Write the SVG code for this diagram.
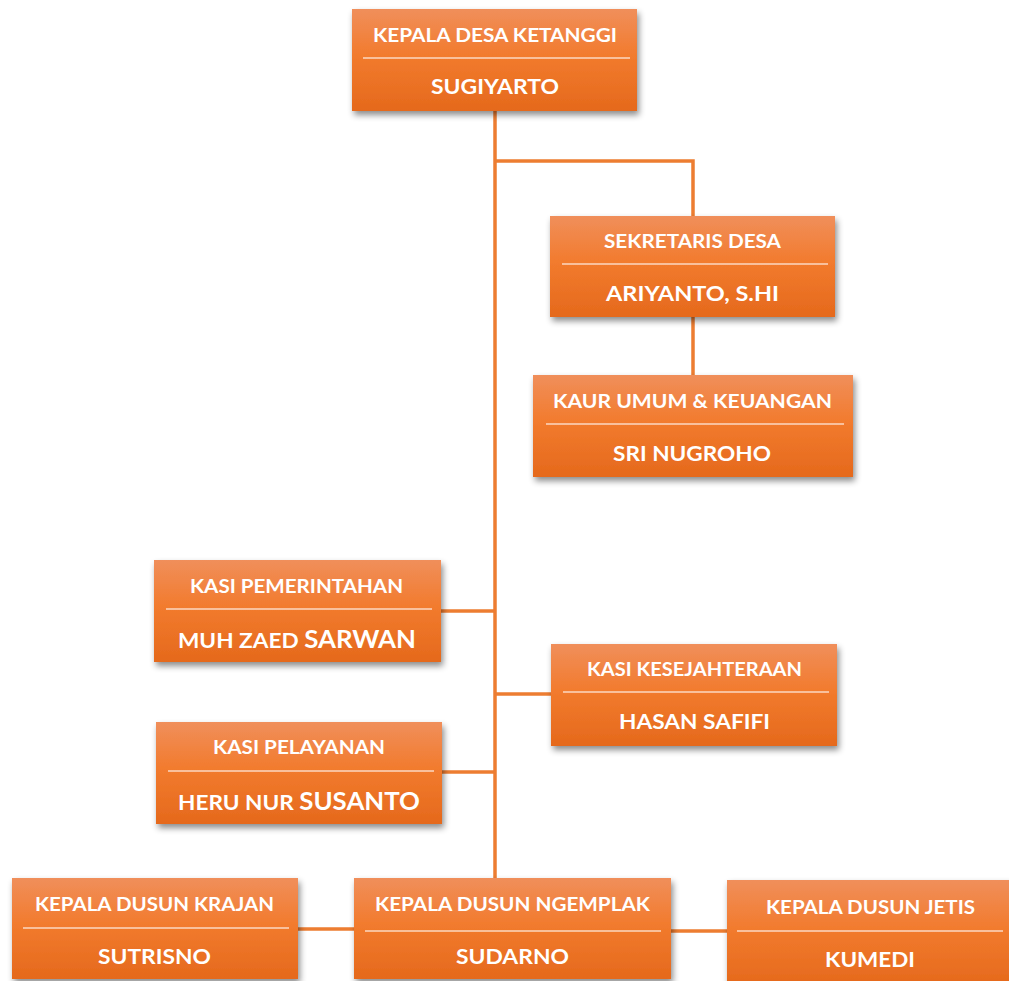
<svg xmlns="http://www.w3.org/2000/svg" width="1009" height="981" viewBox="0 0 1009 981">
<defs>
<linearGradient id="g" x1="0" y1="0" x2="0" y2="1">
<stop offset="0" stop-color="#F08F5B"/>
<stop offset="0.45" stop-color="#F27B2E"/>
<stop offset="1" stop-color="#E5691C"/>
</linearGradient>
<filter id="sh" x="-10%" y="-10%" width="125%" height="135%">
<feDropShadow dx="2" dy="4" stdDeviation="3" flood-color="#000" flood-opacity="0.45"/>
</filter>
</defs>
<style>
.box{fill:url(#g);filter:url(#sh)}
.div{stroke:#FBD9C2;stroke-width:1.5}
.t{font-family:Lato,"Open Sans","Liberation Sans",sans-serif;font-weight:700;fill:#fff;text-anchor:middle}
.ti{font-size:19px}
.nm{font-size:21px}
.big{font-size:24px}
.c{stroke:#ED7D31;stroke-width:3.5;fill:none}
</style>
<rect width="1009" height="981" fill="#fff"/>
<g id="connectors">
<path class="c" d="M495 111 V878"/>
<path class="c" d="M495 161 H693 V216"/>
<path class="c" d="M693 317 V375"/>
<path class="c" d="M441 611 H495"/>
<path class="c" d="M495 694 H551"/>
<path class="c" d="M442 772 H495"/>
<path class="c" d="M298 929 H354"/>
<path class="c" d="M671 931 H727"/>
</g>
<g id="kepala-desa">
<rect class="box" x="352" y="9" width="285" height="102"/>
<line class="div" x1="363" y1="58" x2="630" y2="58"/>
<text class="t ti" x="495" y="42" textLength="244" lengthAdjust="spacingAndGlyphs">KEPALA DESA KETANGGI</text>
<text class="t nm" x="495" y="94" textLength="128" lengthAdjust="spacingAndGlyphs">SUGIYARTO</text>
</g>
<g id="sekretaris-desa">
<rect class="box" x="550" y="216" width="285" height="101"/>
<line class="div" x1="562" y1="264" x2="828" y2="264"/>
<text class="t ti" x="692.5" y="248" textLength="177" lengthAdjust="spacingAndGlyphs">SEKRETARIS DESA</text>
<text class="t nm" x="692.5" y="301" textLength="173" lengthAdjust="spacingAndGlyphs">ARIYANTO, S.HI</text>
</g>
<g id="kaur-umum">
<rect class="box" x="533" y="375" width="320" height="102"/>
<line class="div" x1="546" y1="424" x2="844" y2="424"/>
<text class="t ti" x="692.5" y="408" textLength="279" lengthAdjust="spacingAndGlyphs">KAUR UMUM &amp; KEUANGAN</text>
<text class="t nm" x="692" y="461" textLength="158" lengthAdjust="spacingAndGlyphs">SRI NUGROHO</text>
</g>
<g id="kasi-pemerintahan">
<rect class="box" x="154" y="560" width="287" height="102"/>
<line class="div" x1="166" y1="609" x2="432" y2="609"/>
<text class="t ti" x="296.5" y="593" textLength="213" lengthAdjust="spacingAndGlyphs">KASI PEMERINTAHAN</text>
<text class="t nm" x="297" y="648" textLength="238" lengthAdjust="spacingAndGlyphs">MUH ZAED <tspan class="big">SARWAN</tspan></text>
</g>
<g id="kasi-kesejahteraan">
<rect class="box" x="551" y="644" width="286" height="102"/>
<line class="div" x1="563" y1="692" x2="829" y2="692"/>
<text class="t ti" x="694.5" y="676" textLength="215" lengthAdjust="spacingAndGlyphs">KASI KESEJAHTERAAN</text>
<text class="t nm" x="694.5" y="729" textLength="151" lengthAdjust="spacingAndGlyphs">HASAN SAFIFI</text>
</g>
<g id="kasi-pelayanan">
<rect class="box" x="156" y="722" width="286" height="102"/>
<line class="div" x1="168" y1="771" x2="434" y2="771"/>
<text class="t ti" x="299" y="754" textLength="172" lengthAdjust="spacingAndGlyphs">KASI PELAYANAN</text>
<text class="t nm" x="299" y="810" textLength="242" lengthAdjust="spacingAndGlyphs">HERU NUR <tspan class="big">SUSANTO</tspan></text>
</g>
<g id="dusun-krajan">
<rect class="box" x="12" y="878" width="286" height="101"/>
<line class="div" x1="23" y1="928" x2="289" y2="928"/>
<text class="t ti" x="154.5" y="911" textLength="239" lengthAdjust="spacingAndGlyphs">KEPALA DUSUN KRAJAN</text>
<text class="t nm" x="154.5" y="964" textLength="113" lengthAdjust="spacingAndGlyphs">SUTRISNO</text>
</g>
<g id="dusun-ngemplak">
<rect class="box" x="354" y="878" width="317" height="101"/>
<line class="div" x1="365" y1="931" x2="661" y2="931"/>
<text class="t ti" x="512.5" y="911" textLength="275" lengthAdjust="spacingAndGlyphs">KEPALA DUSUN NGEMPLAK</text>
<text class="t nm" x="512.5" y="964" textLength="113" lengthAdjust="spacingAndGlyphs">SUDARNO</text>
</g>
<g id="dusun-jetis">
<rect class="box" x="727" y="880" width="290" height="106"/>
<line class="div" x1="737" y1="931" x2="1003" y2="931"/>
<text class="t ti" x="870.5" y="914" textLength="209" lengthAdjust="spacingAndGlyphs">KEPALA DUSUN JETIS</text>
<text class="t nm" x="870" y="967" textLength="90" lengthAdjust="spacingAndGlyphs">KUMEDI</text>
</g>
</svg>
